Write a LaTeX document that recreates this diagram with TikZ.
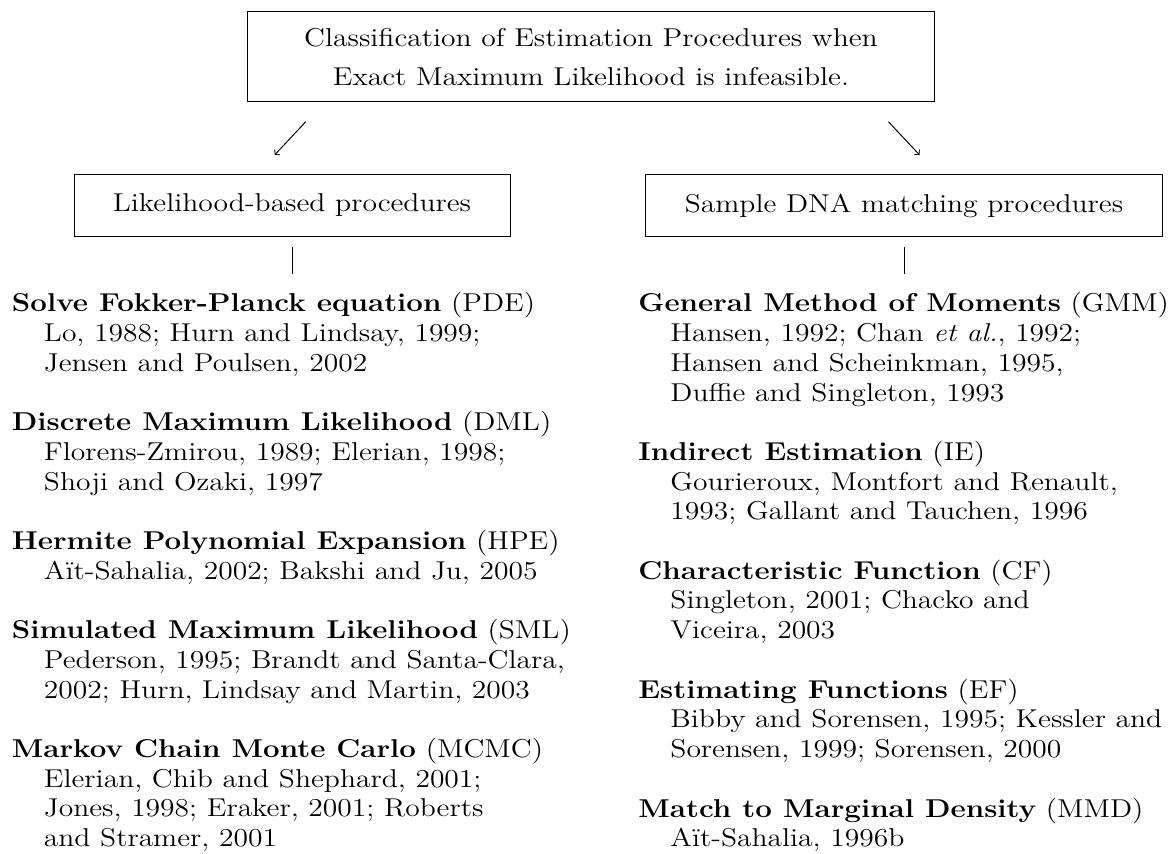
\documentclass[tikz,border=0pt]{standalone}
\usepackage{fontspec}
\usepackage{graphicx}
\usetikzlibrary{calc}
\newcommand{\sx}[1]{\scalebox{1.145}[1]{#1}}
\newcommand{\ind}{\hspace*{13pt}}
\begin{document}
\begin{tikzpicture}[x=0.4651pt,y=-0.4651pt,
  box/.style={draw, line width=0.45pt, inner sep=0pt, align=center, font=\fontsize{12}{18.1}\selectfont},
  item/.style={anchor=base west, inner sep=0pt, font=\fontsize{12}{13.81}\selectfont},
  conn/.style={line width=0.45pt},
  arr/.style={conn, ->},
]
\useasboundingbox (0,0) rectangle (1171,854);
% boxes
\node[box, minimum width=319.1pt, minimum height=41.9pt] (top) at (591,56.7)
  {\sx{Classification of Estimation Procedures when}\\\sx{Exact Maximum Likelihood is infeasible.}};
\node[box, minimum width=202.8pt, minimum height=28.4pt] (lbox) at (292,205.5)
  {\sx{Likelihood-based procedures}};
\node[box, minimum width=240.5pt, minimum height=28.4pt] (rbox) at (904,205.5)
  {\sx{Sample DNA matching procedures}};
% arrows
\coordinate (la1) at (305.8,121.7);
\coordinate (la2) at (274.6,155);
\coordinate (ra1) at (888.4,121.7);
\coordinate (ra2) at (919.6,155);
\draw[arr] (la1) -- (la2);
\draw[arr] (ra1) -- (ra2);
% vertical bars
\coordinate (lv1) at (292,247);
\coordinate (lv2) at (292,274);
\coordinate (rv1) at (904,247);
\coordinate (rv2) at (904,274);
\draw[conn] (lv1) -- (lv2);
\draw[conn] (rv1) -- (rv2);
% left column
\node[item] (pde) at (11.5,312) {\sx{\parbox[t]{280pt}{\textbf{Solve Fokker-Planck equation} (PDE)\\
  \ind Lo, 1988; Hurn and Lindsay, 1999;\\
  \ind Jensen and Poulsen, 2002}}};
\node[item] (dml) at (11.5,430.8) {\sx{\parbox[t]{280pt}{\textbf{Discrete Maximum Likelihood} (DML)\\
  \ind Florens-Zmirou, 1989; Elerian, 1998;\\
  \ind Shoji and Ozaki, 1997}}};
\node[item] (hpe) at (11.5,549.6) {\sx{\parbox[t]{280pt}{\textbf{Hermite Polynomial Expansion} (HPE)\\
  \ind Aït-Sahalia, 2002; Bakshi and Ju, 2005}}};
\node[item] (sml) at (11.5,638.7) {\sx{\parbox[t]{280pt}{\textbf{Simulated Maximum Likelihood} (SML)\\
  \ind Pederson, 1995; Brandt and Santa-Clara,\\
  \ind 2002; Hurn, Lindsay and Martin, 2003}}};
\node[item] (mcmc) at (11.5,757.5) {\sx{\parbox[t]{280pt}{\textbf{Markov Chain Monte Carlo} (MCMC)\\
  \ind Elerian, Chib and Shephard, 2001;\\
  \ind Jones, 1998; Eraker, 2001; Roberts\\
  \ind and Stramer, 2001}}};
% right column
\node[item] (gmm) at (638,312) {\sx{\parbox[t]{280pt}{\textbf{General Method of Moments} (GMM)\\
  \ind Hansen, 1992; Chan \textit{et al.}, 1992;\\
  \ind Hansen and Scheinkman, 1995,\\
  \ind Duffie and Singleton, 1993}}};
\node[item] (ie) at (638,460.5) {\sx{\parbox[t]{280pt}{\textbf{Indirect Estimation} (IE)\\
  \ind Gourieroux, Montfort and Renault,\\
  \ind 1993; Gallant and Tauchen, 1996}}};
\node[item] (cf) at (638,579.3) {\sx{\parbox[t]{280pt}{\textbf{Characteristic Function} (CF)\\
  \ind Singleton, 2001; Chacko and\\
  \ind Viceira, 2003}}};
\node[item] (ef) at (638,698.1) {\sx{\parbox[t]{280pt}{\textbf{Estimating Functions} (EF)\\
  \ind Bibby and Sorensen, 1995; Kessler and\\
  \ind Sorensen, 1999; Sorensen, 2000}}};
\node[item] (mmd) at (638,817) {\sx{\parbox[t]{280pt}{\textbf{Match to Marginal Density} (MMD)\\
  \ind Aït-Sahalia, 1996b}}};
\end{tikzpicture}
\end{document}
